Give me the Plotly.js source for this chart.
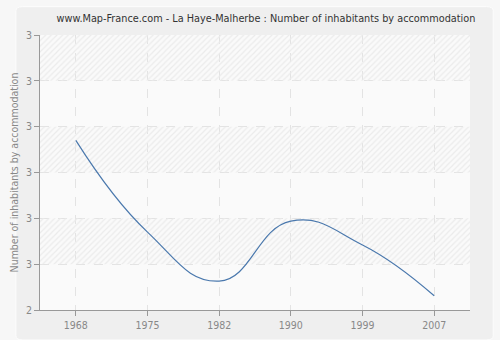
<!DOCTYPE html>
<html>
<head>
<meta charset="utf-8">
<script src="https://cdn.plot.ly/plotly-3.0.1.min.js"></script>
<style>
html,body{margin:0;padding:0;background:#f7f7f7;}
#chart{width:500px;height:340px;}
</style>
</head>
<body>
<div id="chart"></div>
<script>
// Data
var years = ['1968', '1975', '1982', '1990', '1999', '2007'];
var inhabitantsPerAccommodation = [2.77, 2.57, 2.463, 2.594, 2.542, 2.431];
var yTickValues = [2.4, 2.5, 2.6, 2.7, 2.8, 2.9, 3.0];
var yTickLabels = ['2', '3', '3', '3', '3', '3', '3'];
var hatchedBandBases = [2.9, 2.7, 2.5];
var bandHeights = [0.1, 0.1, 0.1];

var bands = {
  type: 'bar',
  x: hatchedBandBases.map(function(){return 0.5;}),
  y: bandHeights,
  base: hatchedBandBases,
  width: 1,
  xaxis: 'x',
  yaxis: 'y',
  marker: {
    color: 'rgba(0,0,0,0)',
    line: {width: 0},
    pattern: {shape: '/', fgcolor: '#ebebeb', bgcolor: 'rgba(0,0,0,0)', size: 4, solidity: 0.3}
  },
  hoverinfo: 'skip',
  showlegend: false
};

var line = {
  type: 'scatter',
  mode: 'lines',
  x: years,
  y: inhabitantsPerAccommodation,
  xaxis: 'x2',
  yaxis: 'y',
  line: {color: '#4a78ad', width: 1.2, shape: 'spline', smoothing: 1.3},
  hoverinfo: 'x+y',
  showlegend: false
};

var fontFam = 'DejaVu Sans Condensed, DejaVu Sans, sans-serif';

var layout = {
  width: 500,
  height: 340,
  margin: {l: 40, r: 30, t: 35, b: 30},
  paper_bgcolor: '#f7f7f7',
  plot_bgcolor: 'rgba(0,0,0,0)',
  barmode: 'overlay',
  title: {
    text: 'www.Map-France.com - La Haye-Malherbe : Number of inhabitants by accommodation',
    font: {family: fontFam, size: 10.8, color: '#333333'},
    x: 0.532, xanchor: 'center', y: 0.945, yanchor: 'middle'
  },
  xaxis: {
    range: [0, 1], visible: false, fixedrange: true, showgrid: false, zeroline: false
  },
  xaxis2: {
    overlaying: 'x',
    type: 'category',
    range: [-0.5, 5.5],
    showline: true, linecolor: '#999999', linewidth: 1,
    ticks: 'outside', ticklen: 5, tickcolor: '#999999',
    showgrid: true, gridcolor: '#e3e3e3', griddash: 'dash', gridwidth: 1,
    tickfont: {family: fontFam, size: 10.5, color: '#888888'},
    zeroline: false,
    side: 'bottom',
    anchor: 'y'
  },
  yaxis: {
    range: [2.4, 3.0],
    tickmode: 'array',
    tickvals: yTickValues,
    ticktext: yTickLabels,
    showline: true, linecolor: '#999999', linewidth: 1,
    ticks: 'outside', ticklen: 5, tickcolor: '#999999',
    showgrid: true, gridcolor: '#e3e3e3', griddash: 'dash', gridwidth: 1,
    tickfont: {family: fontFam, size: 10.5, color: '#888888'},
    zeroline: false,
    title: {text: 'Number of inhabitants by accommodation', font: {family: fontFam, size: 10.5, color: '#888888'}, standoff: 5}
  },
  shapes: [
    {type: 'path', xref: 'paper', yref: 'paper', layer: 'below',
     path: 'M -0.056 1.088 Q -0.056 1.103 -0.040 1.103 L 1.038 1.103 Q 1.054 1.103 1.054 1.088 L 1.054 -0.094 Q 1.054 -0.109 1.038 -0.109 L -0.040 -0.109 Q -0.056 -0.109 -0.056 -0.094 Z',
     fillcolor: '#efefef', line: {color: '#fdfdfd', width: 1}},
    {type: 'rect', xref: 'paper', yref: 'paper', layer: 'below',
     x0: 0, x1: 1, y0: 0, y1: 1, fillcolor: '#fafafa', line: {width: 0}}
  ]
};

Plotly.newPlot('chart', [bands, line], layout, {displayModeBar: false, staticPlot: true});
</script>
</body>
</html>
